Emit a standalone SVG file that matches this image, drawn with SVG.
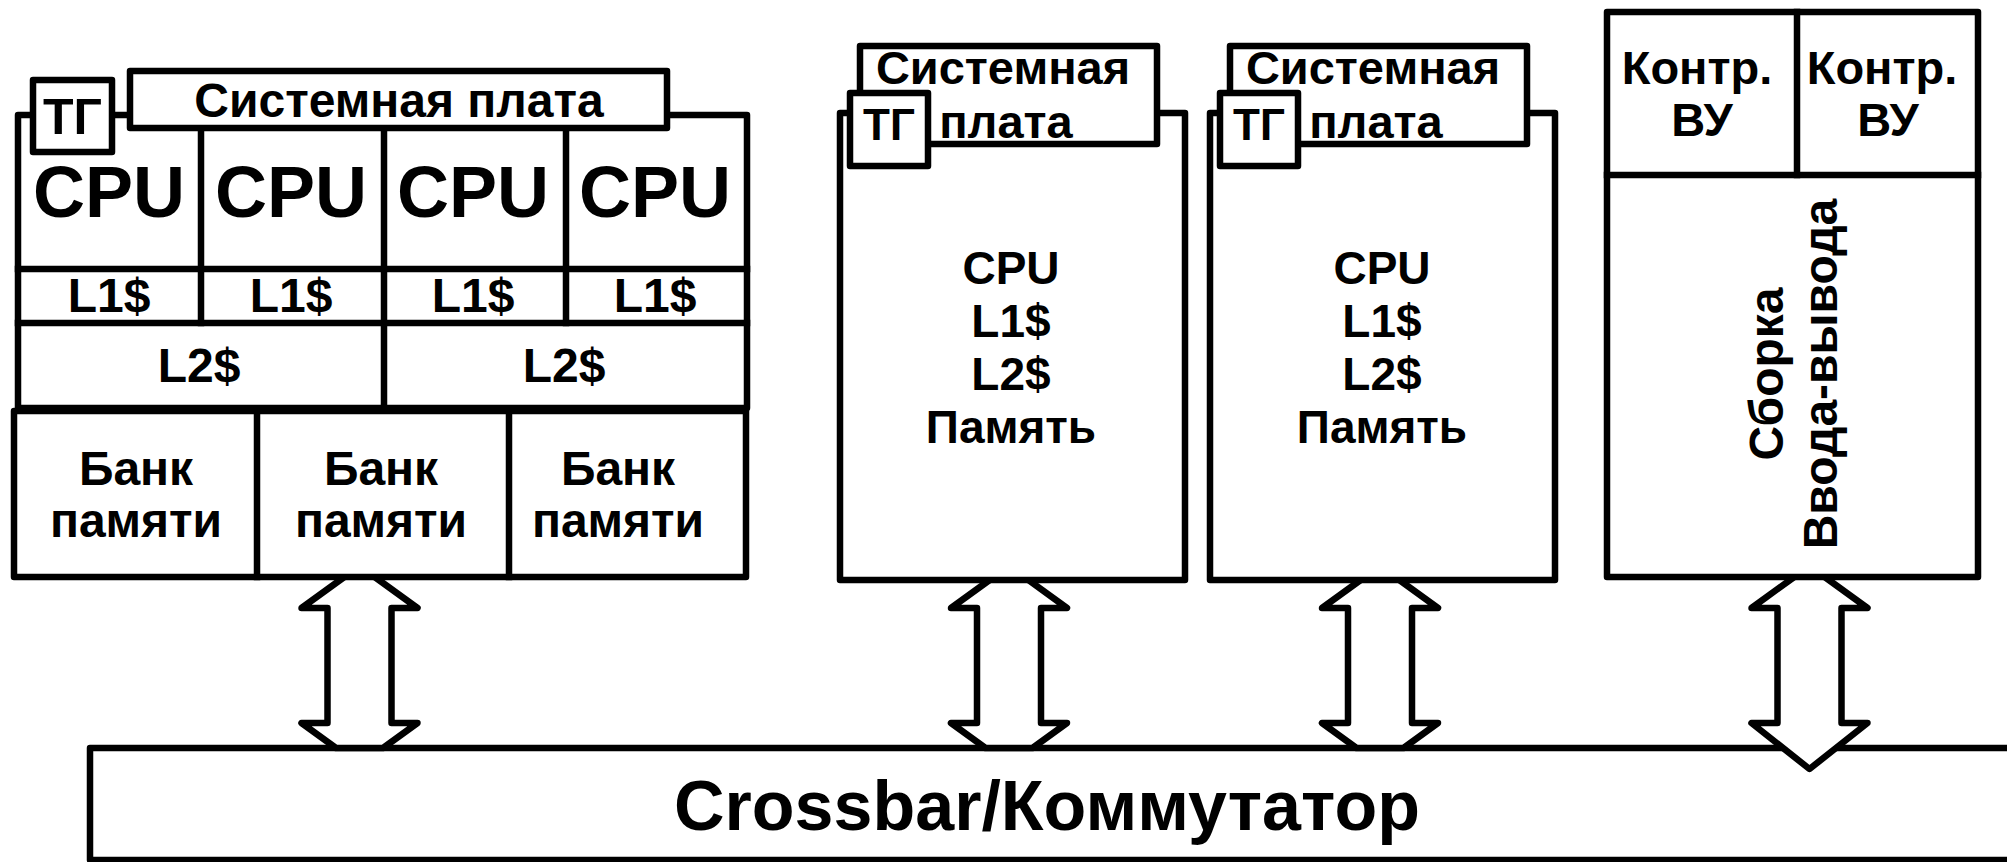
<svg xmlns="http://www.w3.org/2000/svg" xmlns:xlink="http://www.w3.org/1999/xlink" width="2007" height="862" viewBox="0 0 2007 862">
<style>
.box{fill:#fff;stroke:#000;stroke-width:6.5;stroke-linejoin:round}
.ln{fill:none;stroke:#000;stroke-width:6.5;stroke-linecap:square}
.arr{fill:#fff;stroke:#000;stroke-width:6.5;stroke-linejoin:round}
text{font-family:"Liberation Sans",Arial,sans-serif;font-weight:bold;fill:#000;text-anchor:middle}
.t72{font-size:72px}
.t50{font-size:50px}
.t48{font-size:48px}
.t47{font-size:47px}
.t46{font-size:46px}
.t44{font-size:44px}
.t70{font-size:70px}
</style>
<defs>
<path id="arrTrunc" d="M0,566 L58,608 L32,608 L32,723 L58,723 L23.5,748 L-23.5,748 L-58,723 L-32,723 L-32,608 L-58,608 Z"/>
<path id="arrDown" d="M0,566 L58,608 L32,608 L32,723 L58,723 L0,769 L-58,723 L-32,723 L-32,608 L-58,608 Z"/>
</defs>

<g id="crossbar">
<rect class="box" x="90" y="748" width="1930" height="112"/>
<text class="t70" x="1047" y="830">Crossbar/Коммутатор</text>
</g>

<g id="connectors">
<use href="#arrTrunc" class="arr" x="359.5"/>
<use href="#arrTrunc" class="arr" x="1009"/>
<use href="#arrTrunc" class="arr" x="1380"/>
<use href="#arrDown" class="arr" x="1809.5"/>
</g>

<g id="board-left">
<rect class="box" x="18" y="115" width="729" height="293"/>
<line class="ln" x1="18" y1="269" x2="747" y2="269"/>
<line class="ln" x1="18" y1="323" x2="747" y2="323"/>
<line class="ln" x1="201" y1="128" x2="201" y2="323"/>
<line class="ln" x1="384" y1="128" x2="384" y2="408"/>
<line class="ln" x1="566" y1="128" x2="566" y2="323"/>
<rect class="box" x="14" y="411" width="732" height="166"/>
<line class="ln" x1="257" y1="411" x2="257" y2="577"/>
<line class="ln" x1="509" y1="411" x2="509" y2="577"/>
<rect class="box" x="130" y="71" width="537" height="57"/>
<rect class="box" x="33" y="80" width="79" height="72"/>
<text class="t50" x="72.5" y="134">ТГ</text>
<text class="t48" x="399" y="117">Системная плата</text>
<text class="t72" x="109" y="217">CPU</text>
<text class="t72" x="291" y="217">CPU</text>
<text class="t72" x="473" y="217">CPU</text>
<text class="t72" x="655" y="217">CPU</text>
<text class="t48" x="109" y="312">L1$</text>
<text class="t48" x="291" y="312">L1$</text>
<text class="t48" x="473" y="312">L1$</text>
<text class="t48" x="655" y="312">L1$</text>
<text class="t48" x="199" y="382">L2$</text>
<text class="t48" x="564" y="382">L2$</text>
<text class="t48" x="136" y="485">Банк</text>
<text class="t48" x="136" y="537">памяти</text>
<text class="t48" x="381" y="485">Банк</text>
<text class="t48" x="381" y="537">памяти</text>
<text class="t48" x="618" y="485">Банк</text>
<text class="t48" x="618" y="537">памяти</text>
</g>

<g id="board-mid-1">
<rect class="box" x="840" y="113" width="345" height="467"/>
<rect class="box" x="860" y="46" width="297" height="98"/>
<text class="t47" x="1003" y="84">Системная</text>
<text class="t47" x="1006" y="138">плата</text>
<rect class="box" x="850" y="93" width="78" height="73"/>
<text class="t44" x="889" y="140">ТГ</text>
<text class="t46" x="1011" y="284">CPU</text>
<text class="t46" x="1011" y="337">L1$</text>
<text class="t46" x="1011" y="390">L2$</text>
<text class="t46" x="1011" y="443">Память</text>
</g>

<g id="board-mid-2">
<rect class="box" x="1210" y="113" width="345" height="467"/>
<rect class="box" x="1230" y="46" width="297" height="98"/>
<text class="t47" x="1373" y="84">Системная</text>
<text class="t47" x="1376" y="138">плата</text>
<rect class="box" x="1220" y="93" width="78" height="73"/>
<text class="t44" x="1259" y="140">ТГ</text>
<text class="t46" x="1382" y="284">CPU</text>
<text class="t46" x="1382" y="337">L1$</text>
<text class="t46" x="1382" y="390">L2$</text>
<text class="t46" x="1382" y="443">Память</text>
</g>

<g id="io-assembly">
<rect class="box" x="1607" y="12" width="371" height="565"/>
<line class="ln" x1="1607" y1="175" x2="1978" y2="175"/>
<line class="ln" x1="1797" y1="12" x2="1797" y2="175"/>
<text class="t47" x="1697" y="84">Контр.</text>
<text class="t47" x="1702" y="136">ВУ</text>
<text class="t47" x="1882" y="84">Контр.</text>
<text class="t47" x="1888" y="136">ВУ</text>
<text class="t48" transform="translate(1783,374) rotate(-90)">Сборка</text>
<text class="t48" transform="translate(1837,374) rotate(-90)">Ввода-вывода</text>
</g>
</svg>
